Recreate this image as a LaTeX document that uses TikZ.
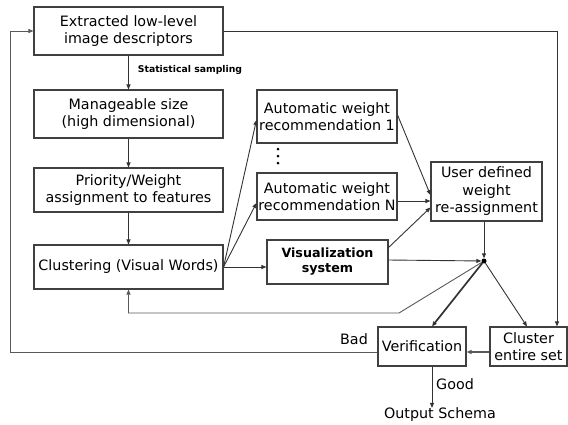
\documentclass[tikz,border=0pt]{standalone}
\usepackage{fontspec}
\setmainfont{DejaVu Sans}
\usetikzlibrary{arrows.meta,calc}
\begin{document}
\begin{tikzpicture}[x=1pt,y=-1pt,
  box/.style={draw=black!75,line width=1.1pt,inner sep=0pt,align=center,font=\fontsize{14.3}{17.5}\selectfont},
  conn/.style={draw=black!80,line width=0.9pt,-{Triangle[length=5pt,width=4pt]}},
  plain/.style={draw=black!70,line width=0.9pt},
  lbl/.style={inner sep=0pt,font=\fontsize{14.3}{17.5}\selectfont}]
\useasboundingbox (0,0) rectangle (568,424);
\node[box,minimum width=189pt,minimum height=48pt] (b1) at (128.5,31) {Extracted low-level\\image descriptors};
\node[box,minimum width=189pt,minimum height=48pt] (b2) at (128.5,114) {Manageable size\\(high dimensional)};
\node[box,minimum width=189pt,minimum height=44pt] (b3) at (128.5,190) {Priority/Weight\\assignment to features};
\node[box,minimum width=189pt,minimum height=44pt] (b4) at (128.5,267) {Clustering (Visual Words)};
\node[box,minimum width=140pt,minimum height=53pt] (r1) at (327,116.5) {Automatic weight\\recommendation 1};
\node[box,minimum width=140pt,minimum height=47pt] (rN) at (327,196.5) {Automatic weight\\recommendation N};
\node[box,minimum width=121pt,minimum height=44pt,font=\fontsize{12.7}{15}\selectfont\bfseries] (vis) at (327.5,262) {Visualization\\system};
\node[box,minimum width=111pt,minimum height=59pt] (usr) at (486.5,191.5) {User defined\\weight\\re-assignment};
\node[box,minimum width=88pt,minimum height=39pt] (ver) at (422,346.5) {Verification};
\node[box,minimum width=77pt,minimum height=39pt] (cl) at (528.5,346.5) {Cluster\\entire set};
\node[lbl] (out) at (440,415) {Output Schema};
\node[lbl] (good) at (455,384) {Good};
\node[lbl] (bad) at (354,339) {Bad};
\node[inner sep=0pt,font=\fontsize{9.3}{11}\selectfont\bfseries] (ss) at (190,70) {Statistical sampling};
\node[circle,fill=black,inner sep=0pt,minimum size=5pt] (dot) at (484,261) {};
\foreach \yy [count=\i] in {149,156,163}
  \node[circle,fill=black,inner sep=0pt,minimum size=3pt] (e\i) at (278,\yy) {};
\coordinate (fb) at (399,313);
\coordinate (lc) at (10,352);
\coordinate (tc) at (557,31);
% main chain
\draw[conn] (b1) -- (b2);
\draw[conn] (b2) -- (b3);
\draw[conn] (b3) -- (b4);
% clustering to branches
\draw[conn] (b4.east) -- ($(r1.west)+(0,3.5)$);
\draw[conn] (b4.east) -- ($(rN.west)+(0,6.5)$);
\draw[conn] (b4.east) -- (b4.east -| vis.west);
% to user defined
\draw[conn] ($(r1.east)+(0,-1.5)$) -- ($(usr.west)+(0,3.5)$);
\draw[conn] ($(rN.east)+(0,4.5)$) -- ($(usr.west)+(0,9.5)$);
\draw[conn] ($(vis.north east)+(-1,9)$) -- ($(usr.west)+(0,16)$);
% to dot
\draw[conn] ($(vis.east)+(0,-2)$) -- (dot);
\draw[conn] (usr.south -| dot) -- (dot);
% from dot
\draw[plain,draw=black!65,-{Triangle[length=5pt,width=4pt]}] (dot) -- (fb) -- (fb -| b4.south) -- (b4.south);
\draw[conn,line width=1.7pt] (dot) -- (ver.north -| 432,0);
\draw[conn] (dot) -- (cl.north -| 527,0);
% cluster -> verification
\draw[conn,draw=black!65,line width=1.8pt] ($(cl.west)+(0,5.5)$) -- ($(ver.east)+(0,5.5)$);
% bad loop
\draw[conn,draw=black!65] ($(ver.west)+(0,5.5)$) -- (lc) -- (lc |- b1.west) -- (b1.west);
% top right
\draw[conn] (b1.east) -- (tc) -- (tc |- cl.north);
% good
\draw[conn] (ver.south -| 432,0) -- (out.north -| 432,0);
\end{tikzpicture}
\end{document}
